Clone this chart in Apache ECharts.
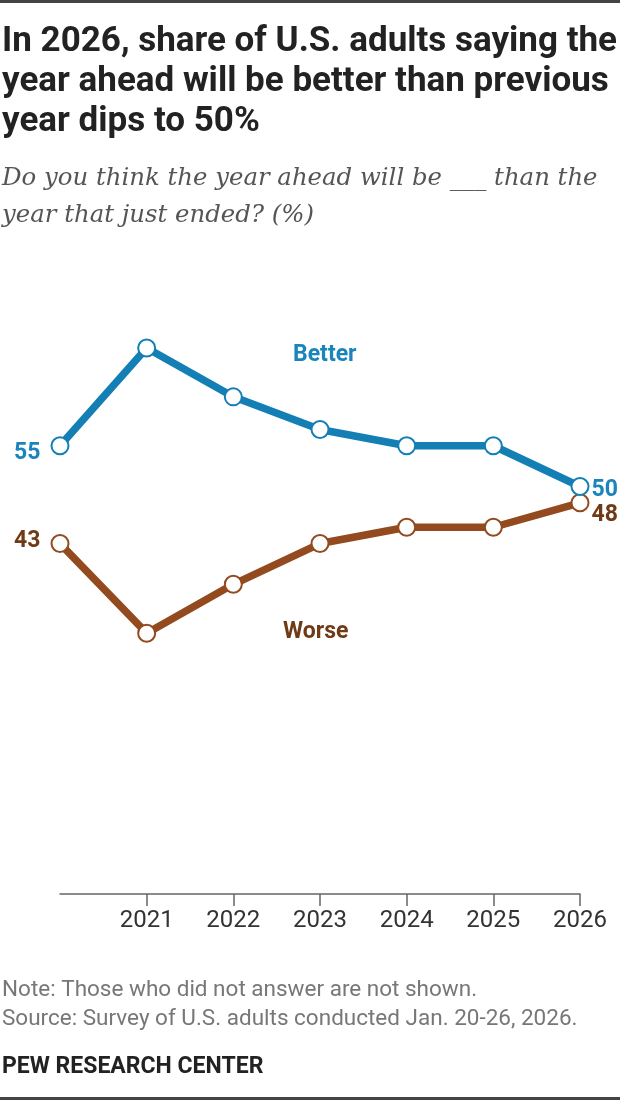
<!DOCTYPE html>
<html lang="en">
<head>
    <meta charset="UTF-8">
    <title>Year ahead better or worse</title>
    <style>
        html, body { margin: 0; padding: 0; background: #fff; }
        #chart { width: 620px; height: 1100px; }
    </style>
</head>
<body>
<div id="chart"></div>
<script src="https://cdn.jsdelivr.net/npm/echarts@6/dist/echarts.min.js"></script>
<script type="text/javascript">
    // first point has no year label on the axis
    var years = ['', '2021', '2022', '2023', '2024', '2025', '2026'];
    var better = [55, 67, 61, 57, 55, 55, 50];
    var worse = [43, 32, 38, 43, 45, 45, 48];

    var blue = '#137fb5';
    var blueText = '#1a84bd';
    var brown = '#924a1e';
    var brownText = '#6f3b17';

    // only first and last points get a number
    function withEndLabels(values, color, firstOffset, lastOffset) {
        return values.map(function (v, i) {
            if (i === 0) {
                return {value: v, label: {show: true, position: 'left', distance: 10, offset: firstOffset, color: color}};
            }
            if (i === values.length - 1) {
                return {value: v, label: {show: true, position: 'right', distance: 2, offset: lastOffset, color: color}};
            }
            return v;
        });
    }

    var chart = echarts.init(document.getElementById('chart'));

    var option = {
        animation: false,
        title: [
            {
                text: 'In 2026, share of U.S. adults saying the\nyear ahead will be better than previous\nyear dips to 50%',
                left: 2,
                top: 22,
                padding: 0,
                textStyle: {
                    fontFamily: 'Roboto',
                    fontWeight: 'bold',
                    fontSize: 35,
                    lineHeight: 40,
                    color: '#222'
                }
            },
            {
                text: 'Do you think the year ahead will be ___ than the\nyear that just ended? (%)',
                left: 2,
                top: 160,
                padding: 0,
                textStyle: {
                    fontFamily: 'DejaVu Serif',
                    fontStyle: 'italic',
                    fontWeight: 'normal',
                    fontSize: 24.4,
                    lineHeight: 37,
                    color: '#555'
                }
            },
            {
                text: 'Note: Those who did not answer are not shown.\nSource: Survey of U.S. adults conducted Jan. 20-26, 2026.',
                left: 2,
                top: 976,
                padding: 0,
                textStyle: {
                    fontFamily: 'Roboto',
                    fontWeight: 'normal',
                    fontSize: 22.5,
                    lineHeight: 29,
                    color: '#777'
                }
            },
            {
                text: 'PEW RESEARCH CENTER',
                left: 2,
                top: 1056,
                padding: 0,
                textStyle: {
                    fontFamily: 'Roboto',
                    fontWeight: 'bold',
                    fontSize: 23,
                    color: '#222'
                }
            }
        ],
        graphic: [
            {type: 'rect', left: 0, top: 0, shape: {width: 620, height: 3}, style: {fill: '#444'}},
            {type: 'rect', left: 0, top: 1097, shape: {width: 620, height: 3}, style: {fill: '#444'}},
            {
                type: 'text', left: 293, top: 344,
                style: {text: 'Better', fill: blueText, font: 'bold 23px Roboto'}
            },
            {
                type: 'text', left: 283, top: 621,
                style: {text: 'Worse', fill: brownText, font: 'bold 23px Roboto'}
            }
        ],
        grid: {
            left: 60,
            right: 40,
            top: 242,
            bottom: 206
        },
        xAxis: {
            type: 'category',
            data: years,
            boundaryGap: false,
            axisLine: {lineStyle: {color: '#666', width: 1.5}},
            axisTick: {
                length: 12,
                lineStyle: {color: '#666', width: 1.5},
                interval: function (index) {
                    return index > 0;
                }
            },
            axisLabel: {
                margin: 15,
                fontFamily: 'Roboto',
                fontSize: 24,
                color: '#333'
            }
        },
        yAxis: {
            type: 'value',
            min: 0,
            max: 80,
            show: false
        },
        series: [
            {
                name: 'Better',
                type: 'line',
                data: withEndLabels(better, blueText, [0, 7], [0, 4]),
                symbol: 'circle',
                symbolSize: 17,
                lineStyle: {color: blue, width: 7.5},
                itemStyle: {color: '#fff', borderColor: blue, borderWidth: 2},
                label: {
                    show: false,
                    fontFamily: 'Roboto',
                    fontWeight: 'bold',
                    fontSize: 23
                },
                z: 3
            },
            {
                name: 'Worse',
                type: 'line',
                data: withEndLabels(worse, brownText, [0, -2], [0, 12]),
                symbol: 'circle',
                symbolSize: 17,
                lineStyle: {color: brown, width: 7.5},
                itemStyle: {color: '#fff', borderColor: brown, borderWidth: 2},
                label: {
                    show: false,
                    fontFamily: 'Roboto',
                    fontWeight: 'bold',
                    fontSize: 23
                },
                z: 2
            }
        ]
    };

    chart.setOption(option);
</script>
</body>
</html>
